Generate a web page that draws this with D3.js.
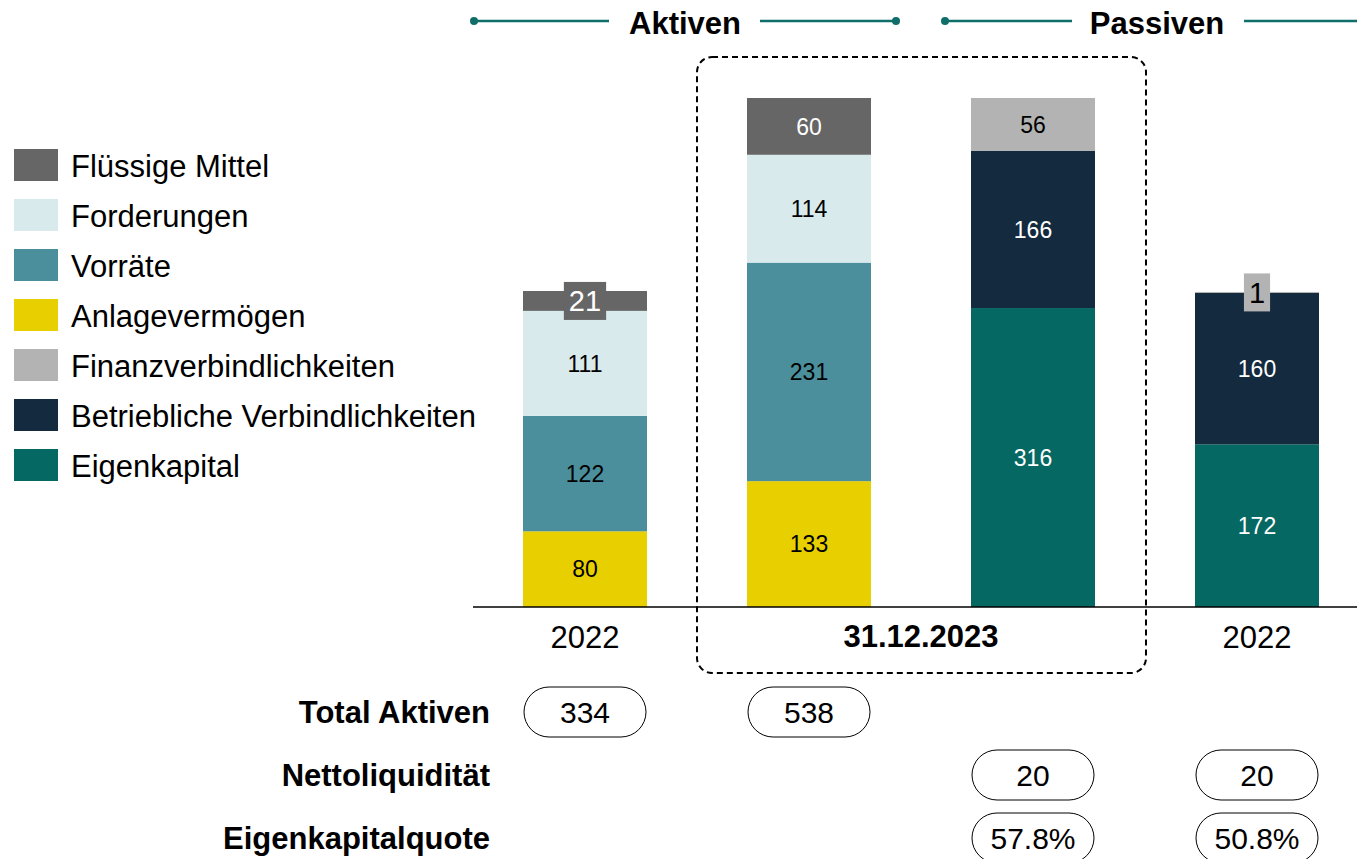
<!DOCTYPE html>
<html>
<head>
<meta charset="utf-8">
<script src="https://cdn.jsdelivr.net/npm/d3@7"></script>
<style>
  html, body { margin: 0; padding: 0; background: #fff; }
  svg { display: block; font-family: "Liberation Sans", Arial, sans-serif; }
</style>
</head>
<body>
<svg id="chart" width="1357" height="859"></svg>
<script>
// ---------- DATA ----------
const columns = ["Aktiven 2022", "Aktiven 2023", "Passiven 2023", "Passiven 2022"];
const columnLabels = ["2022", "31.12.2023", "31.12.2023", "2022"];
const seriesNames = ["Flüssige Mittel", "Forderungen", "Vorräte", "Anlagevermögen",
                     "Finanzverbindlichkeiten", "Betriebliche Verbindlichkeiten", "Eigenkapital"];
const fluessigeMittel = [21, 60, 0, 0];
const forderungen = [111, 114, 0, 0];
const vorraete = [122, 231, 0, 0];
const anlagevermoegen = [80, 133, 0, 0];
const finanzverbindlichkeiten = [0, 0, 56, 1];
const betrieblicheVerbindlichkeiten = [0, 0, 166, 160];
const eigenkapital = [0, 0, 316, 172];
const totalAktiven = ["334", "538", null, null];
const nettoliquiditaet = [null, null, "20", "20"];
const eigenkapitalquote = [null, null, "57.8%", "50.8%"];
const rowLabels = ["Total Aktiven", "Nettoliquidität", "Eigenkapitalquote"];
const headers = ["Aktiven", "Passiven"];

// ---------- STYLE ----------
const colors = {
  "Flüssige Mittel": "#666666",
  "Forderungen": "#d9eaed",
  "Vorräte": "#4a8f9b",
  "Anlagevermögen": "#e8cf00",
  "Finanzverbindlichkeiten": "#b3b3b3",
  "Betriebliche Verbindlichkeiten": "#142a3e",
  "Eigenkapital": "#066862"
};
const labelColors = {
  "Flüssige Mittel": "#fff",
  "Forderungen": "#000",
  "Vorräte": "#000",
  "Anlagevermögen": "#000",
  "Finanzverbindlichkeiten": "#000",
  "Betriebliche Verbindlichkeiten": "#fff",
  "Eigenkapital": "#fff"
};
const seriesData = {
  "Flüssige Mittel": fluessigeMittel,
  "Forderungen": forderungen,
  "Vorräte": vorraete,
  "Anlagevermögen": anlagevermoegen,
  "Finanzverbindlichkeiten": finanzverbindlichkeiten,
  "Betriebliche Verbindlichkeiten": betrieblicheVerbindlichkeiten,
  "Eigenkapital": eigenkapital
};
// stacking order bottom -> top
const stackOrder = ["Anlagevermögen", "Vorräte", "Forderungen", "Flüssige Mittel",
                    "Eigenkapital", "Betriebliche Verbindlichkeiten", "Finanzverbindlichkeiten"];

const rows = columns.map((c, i) => {
  const r = { col: c };
  seriesNames.forEach(s => r[s] = seriesData[s][i]);
  return r;
});

const svg = d3.select("#chart");
const baseY = 607;
const barW = 124;
const x = d3.scalePoint().domain(columns).range([585, 1257]);
const y = d3.scaleLinear().domain([0, 538]).range([baseY, 98]);

const stack = d3.stack().keys(stackOrder);
const stacked = stack(rows);

// ---------- BARS ----------
const gBars = svg.append("g");
stacked.forEach(layer => {
  const key = layer.key;
  layer.forEach((d, i) => {
    const v = d[1] - d[0];
    if (v <= 0) return;
    const cx = x(columns[i]);
    const y0 = y(d[0]), y1 = y(d[1]);
    gBars.append("rect")
      .attr("x", cx - barW / 2).attr("y", y1)
      .attr("width", barW).attr("height", Math.max(1, y0 - y1))
      .attr("fill", colors[key]);
  });
});
// labels
stacked.forEach(layer => {
  const key = layer.key;
  layer.forEach((d, i) => {
    const v = d[1] - d[0];
    if (v <= 0) return;
    const cx = x(columns[i]);
    const y0 = y(d[0]), y1 = y(d[1]);
    const cy = (y0 + y1) / 2;
    if (y0 - y1 < 28) {
      const t = gBars.append("text")
        .attr("x", cx).attr("y", cy).attr("dy", "0.36em")
        .attr("text-anchor", "middle")
        .attr("font-size", 29)
        .attr("fill", labelColors[key])
        .text(v);
      const w = t.node().getComputedTextLength();
      gBars.insert("rect", function () { return t.node(); })
        .attr("x", cx - w / 2 - 5).attr("y", cy - 19)
        .attr("width", w + 10).attr("height", 38)
        .attr("fill", colors[key]);
    } else {
      gBars.append("text")
        .attr("x", cx).attr("y", cy).attr("dy", "0.36em")
        .attr("text-anchor", "middle")
        .attr("font-size", 23)
        .attr("fill", labelColors[key])
        .text(v);
    }
  });
});

// baseline
svg.append("line")
  .attr("x1", 473).attr("x2", 1357).attr("y1", baseY).attr("y2", baseY)
  .attr("stroke", "#000").attr("stroke-width", 1.5);

// dashed box
svg.append("rect")
  .attr("x", 697).attr("y", 57).attr("width", 449).attr("height", 616)
  .attr("rx", 15).attr("ry", 15)
  .attr("fill", "none").attr("stroke", "#000").attr("stroke-width", 2)
  .attr("stroke-dasharray", "6,4");

// x labels
svg.append("text").attr("x", x(columns[0])).attr("y", 637).attr("dy", "0.36em")
  .attr("text-anchor", "middle").attr("font-size", 31).text(columnLabels[0]);
svg.append("text").attr("x", (x(columns[1]) + x(columns[2])) / 2).attr("y", 636).attr("dy", "0.36em")
  .attr("text-anchor", "middle").attr("font-size", 31).attr("font-weight", "bold").text(columnLabels[1]);
svg.append("text").attr("x", x(columns[3])).attr("y", 637).attr("dy", "0.36em")
  .attr("text-anchor", "middle").attr("font-size", 31).text(columnLabels[3]);

// headers
const teal = "#0f6e69";
function headerGroup(label, cx, l1, l2, r1, r2, dots) {
  const g = svg.append("g");
  g.append("line").attr("x1", l1).attr("x2", l2).attr("y1", 21).attr("y2", 21)
    .attr("stroke", teal).attr("stroke-width", 2.5);
  g.append("line").attr("x1", r1).attr("x2", r2).attr("y1", 21).attr("y2", 21)
    .attr("stroke", teal).attr("stroke-width", 2.5);
  dots.forEach(dx => g.append("circle").attr("cx", dx).attr("cy", 21).attr("r", 4).attr("fill", teal));
  g.append("text").attr("x", cx).attr("y", 23).attr("dy", "0.36em")
    .attr("text-anchor", "middle").attr("font-size", 31).attr("font-weight", "bold").text(label);
}
headerGroup(headers[0], 685, 474, 609, 760, 896, [474, 896]);
headerGroup(headers[1], 1157, 945, 1072, 1244, 1357, [945]);

// legend
const legend = svg.append("g");
seriesNames.forEach((s, i) => {
  const ly = 149 + i * 50;
  legend.append("rect").attr("x", 14).attr("y", ly).attr("width", 44).attr("height", 32)
    .attr("fill", colors[s]);
  legend.append("text").attr("x", 71).attr("y", ly + 17).attr("dy", "0.36em")
    .attr("font-size", 31).attr("fill", "#000").text(s);
});

// bottom rows
const rowY = [712, 775, 838];
const rowValues = [totalAktiven, nettoliquiditaet, eigenkapitalquote];
rowLabels.forEach((lab, r) => {
  svg.append("text").attr("x", 490).attr("y", rowY[r]).attr("dy", "0.36em")
    .attr("text-anchor", "end").attr("font-size", 31).attr("font-weight", "bold").text(lab);
  rowValues[r].forEach((v, i) => {
    if (v == null) return;
    const cx = x(columns[i]);
    svg.append("rect").attr("x", cx - 61).attr("y", rowY[r] - 25)
      .attr("width", 122).attr("height", 50).attr("rx", 25).attr("ry", 25)
      .attr("fill", "#fff").attr("stroke", "#000").attr("stroke-width", 1);
    svg.append("text").attr("x", cx).attr("y", rowY[r]).attr("dy", "0.36em")
      .attr("text-anchor", "middle").attr("font-size", 30).text(v);
  });
});
</script>
</body>
</html>
